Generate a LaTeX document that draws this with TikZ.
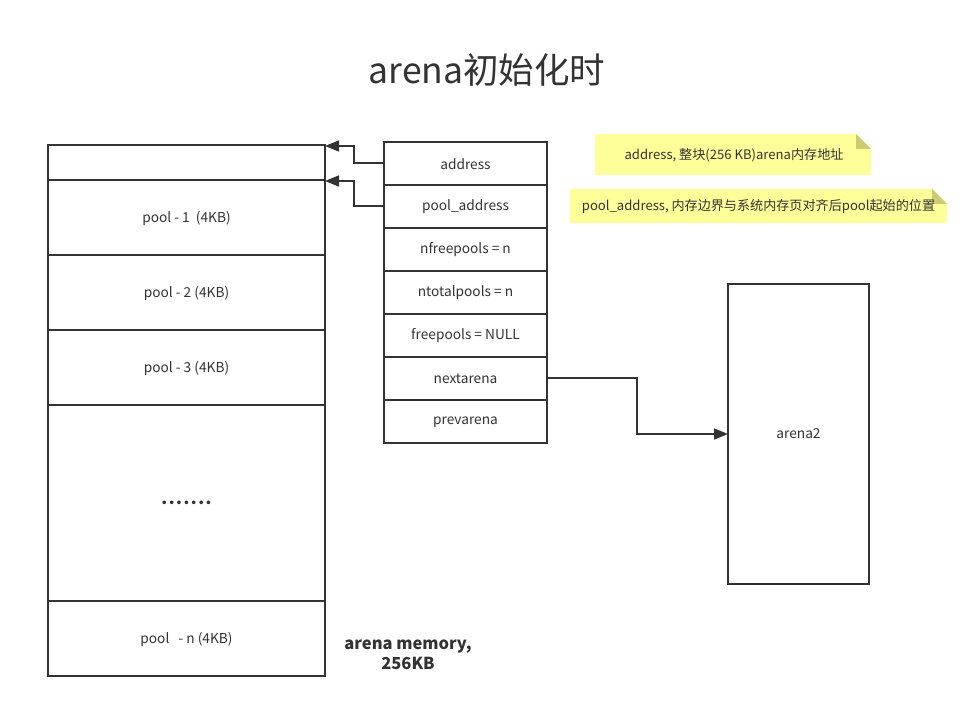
\documentclass[tikz,border=0pt]{standalone}
\usepackage{fontspec}
\setmainfont{Noto Sans CJK SC}
\newfontfamily\dejavu{DejaVu Sans}
\usetikzlibrary{arrows.meta}
\definecolor{ln}{HTML}{333333}
\definecolor{notey}{HTML}{FFFF99}
\definecolor{fold}{HTML}{CDCB74}
\tikzset{
  conn/.style={draw=ln,line width=1.5pt,-{Triangle[length=14pt,width=11pt]}},
  lbl/.style={font=\fontsize{13.7}{16}\selectfont,text=ln},
  notetxt/.style={font=\fontsize{13.1}{15}\selectfont,text=ln},
}
\begin{document}
\begin{tikzpicture}[x=1pt,y=-1pt]
\useasboundingbox[fill=white] (0,0) rectangle (979,708);
% title
\node[font=\fontsize{35.5}{40}\selectfont,text=ln] (title) at (487,70) {arena初始化时};
% left memory box
\foreach \n/\a/\b/\t in {m0/145/180/{},m1/180/255/{pool - 1\ \ (4KB)},m2/255/330/{pool - 2 (4KB)},m3/330/405/{pool - 3 (4KB)},m4/405/601/{{\dejavu\fontsize{12.5}{14}\selectfont •••••••}},m5/601/676/{pool\ \ \ - n (4KB)}}{
  \draw[ln,line width=1.5pt] (48,\a) rectangle (325,\b);
  \node[lbl] (\n) at (186.5,{(\a+\b)/2+1}) {\t};
}
% struct table
\foreach \n/\a/\t in {s0/142/address,s1/185/pool\_address,s2/228/nfreepools = n,s3/271/ntotalpools = n,s4/314/freepools = NULL,s5/357/nextarena,s6/400/prevarena}{
  \draw[ln,line width=1.5pt] (384,\a) rectangle (547,\a+43);
  \node[lbl] (\n) at (465.5,\a+22) {\t};
}
\coordinate (s0w) at (384,163);
\coordinate (s1w) at (384,206);
\coordinate (s5e) at (547,378);
\coordinate (m0e) at (325,146);
\coordinate (m1e) at (325,181);
% arena2
\draw[ln,line width=1.5pt] (728,284) rectangle (869,584);
\node[lbl] (a2) at (798.5,434) {arena2};
\coordinate (a2w) at (728,434);
% connectors
\draw[conn] (s0w) -- (354,163) -- (354,146) -- (m0e);
\draw[conn] (s1w) -- (354,206) -- (354,181) -- (m1e);
\draw[conn] (s5e) -- (637,378) -- (637,434) -- (a2w);
% notes
\fill[notey] (595,134) -- (856,134) -- (871,149) -- (871,175) -- (595,175) -- cycle;
\fill[fold] (856,134) -- (871,149) -- (856,149) -- cycle;
\node[notetxt] (n1) at (734,155) {address, 整块(256 KB)arena内存地址};
\fill[notey] (570,189) -- (932,189) -- (947,204) -- (947,223) -- (570,223) -- cycle;
\fill[fold] (932,189) -- (947,204) -- (932,204) -- cycle;
\node[notetxt] (n2) at (758.5,206) {pool\_address, 内存边界与系统内存页对齐后pool起始的位置};
% caption
\node[font=\bfseries\fontsize{16.5}{20}\selectfont,text=ln,align=center] (cap) at (408,655) {arena memory,\\256KB};
\end{tikzpicture}
\end{document}
